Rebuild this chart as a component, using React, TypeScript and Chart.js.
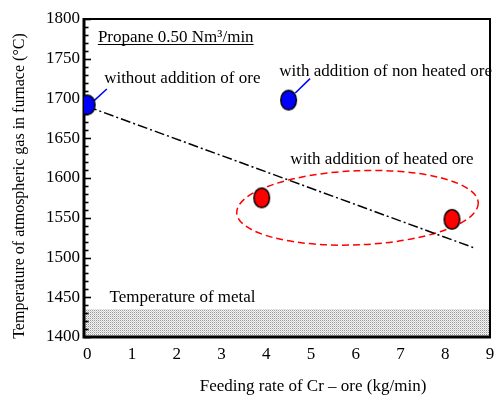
import { useEffect, useRef } from 'react';
import { Chart, registerables } from 'chart.js';

Chart.register(...registerables);

const FONT = '"Liberation Serif", "Times New Roman", serif';

// axes
const xRange = [-0.07, 9];
const yRange = [1400, 1800];
const xTicks = [0, 1, 2, 3, 4, 5, 6, 7, 8, 9];
const yTicks = [1400, 1450, 1500, 1550, 1600, 1650, 1700, 1750, 1800];
const yMinorStep = 10;

// data
const noOreX = [0];
const noOreY = [1692];
const nonHeatedX = [4.5];
const nonHeatedY = [1698];
const heatedX = [3.9, 8.15];
const heatedY = [1575, 1548];
const trendX = [0, 8.65];
const trendY = [1690, 1512];
const metalTempTop = 1435;

// leader lines from points to labels
const leaderNoOreX = [0.15, 0.44];
const leaderNoOreY = [1697, 1712];
const leaderNonHeatedX = [4.65, 4.98];
const leaderNonHeatedY = [1707, 1725];

// dashed ellipse around heated ore points (data units)
const ellipseCenter = [6.04, 1562.5];
const ellipseRadii = [2.7, 46.6];
const ellipseTiltDeg = -2.4;

// annotation labels (data coordinates of left/middle)
const labelTexts = [
  'Propane 0.50 Nm³/min',
  'without addition of ore',
  'with addition of non heated ore',
  'with addition of heated ore',
  'Temperature of metal',
];
const labelX = [0.24, 0.38, 4.29, 4.54, 0.5];
const labelY = [1777, 1725, 1734, 1623, 1450];
const labelUnderline = [true, false, false, false, false];

const xTitle = 'Feeding rate of Cr – ore (kg/min)';
const yTitle = 'Temperature of atmospheric gas in furnace (°C)';

function zip(xs: number[], ys: number[]) {
  return xs.map((x, i) => ({ x, y: ys[i] }));
}

function makeDot(fill: string) {
  const c = document.createElement('canvas');
  c.width = 19;
  c.height = 23;
  const g = c.getContext('2d')!;
  g.beginPath();
  g.ellipse(9.5, 11.5, 7.8, 9.8, 0, 0, Math.PI * 2);
  g.fillStyle = fill;
  g.fill();
  g.lineWidth = 1.5;
  g.strokeStyle = '#000';
  g.stroke();
  return c;
}

function makePattern(ctx: CanvasRenderingContext2D) {
  const c = document.createElement('canvas');
  c.width = 2;
  c.height = 2;
  const g = c.getContext('2d')!;
  g.fillStyle = '#f2f2f2';
  g.fillRect(0, 0, 2, 2);
  g.fillStyle = '#9a9a9a';
  g.fillRect(0, 0, 1, 1);
  g.fillStyle = '#cfcfcf';
  g.fillRect(1, 1, 1, 1);
  return ctx.createPattern(c, 'repeat')!;
}

const decorPlugin = {
  id: 'decor',
  beforeDatasetsDraw(chart: any) {
    const { ctx, chartArea: a, scales } = chart;
    const xs = scales.x;
    const ys = scales.y;
    ctx.save();
    // metal temperature band
    const yTop = ys.getPixelForValue(metalTempTop);
    ctx.fillStyle = makePattern(ctx);
    ctx.fillRect(a.left, yTop, a.right - a.left, a.bottom - yTop);
    // frame
    ctx.strokeStyle = '#000';
    ctx.lineWidth = 2;
    ctx.beginPath();
    ctx.moveTo(a.left, a.top);
    ctx.lineTo(a.right, a.top);
    ctx.lineTo(a.right, a.bottom);
    ctx.stroke();
    ctx.lineWidth = 3;
    ctx.beginPath();
    ctx.moveTo(a.left, a.top - 1);
    ctx.lineTo(a.left, a.bottom);
    ctx.lineTo(a.right + 1, a.bottom);
    ctx.stroke();
    // inward y ticks
    ctx.lineWidth = 1.6;
    for (let v = yRange[0]; v <= yRange[1]; v += yMinorStep) {
      const py = Math.round(ys.getPixelForValue(v)) + 0.5;
      const len = v % 50 === 0 ? 7 : 4.5;
      ctx.beginPath();
      ctx.moveTo(a.left, py);
      ctx.lineTo(a.left + len, py);
      ctx.stroke();
    }
    // dashed ellipse
    const cx = xs.getPixelForValue(ellipseCenter[0]);
    const cy = ys.getPixelForValue(ellipseCenter[1]);
    const rx = Math.abs(xs.getPixelForValue(ellipseCenter[0] + ellipseRadii[0]) - cx);
    const ry = Math.abs(ys.getPixelForValue(ellipseCenter[1] + ellipseRadii[1]) - cy);
    ctx.strokeStyle = '#ff0000';
    ctx.lineWidth = 1.5;
    ctx.setLineDash([7, 4]);
    ctx.beginPath();
    ctx.ellipse(cx, cy, rx, ry, (ellipseTiltDeg * Math.PI) / 180, 0, Math.PI * 2);
    ctx.stroke();
    ctx.restore();
  },
  afterDatasetsDraw(chart: any) {
    const { ctx, scales } = chart;
    const xs = scales.x;
    const ys = scales.y;
    ctx.save();
    ctx.fillStyle = '#000';
    ctx.strokeStyle = '#000';
    ctx.font = `17px ${FONT}`;
    ctx.textAlign = 'left';
    ctx.textBaseline = 'middle';
    labelTexts.forEach((t, i) => {
      const px = xs.getPixelForValue(labelX[i]);
      const py = ys.getPixelForValue(labelY[i]);
      ctx.fillText(t, px, py);
      if (labelUnderline[i]) {
        const w = ctx.measureText(t).width;
        ctx.lineWidth = 1;
        ctx.beginPath();
        ctx.moveTo(px, Math.round(py) + 7.5);
        ctx.lineTo(px + w, Math.round(py) + 7.5);
        ctx.stroke();
      }
    });
    // axis titles
    ctx.textAlign = 'center';
    ctx.font = `17px ${FONT}`;
    ctx.fillText(xTitle, 313, 387);
    ctx.translate(20, 186);
    ctx.rotate(-Math.PI / 2);
    ctx.font = `16px ${FONT}`;
    ctx.fillText(yTitle, 0, 0);
    ctx.restore();
  },
};

export default function App() {
  const ref = useRef<HTMLCanvasElement>(null);
  useEffect(() => {
    if (!ref.current) return;
    const blueDot = makeDot('#0000ff');
    const redDot = makeDot('#ff0000');
    const chart = new Chart(ref.current, {
      type: 'scatter',
      data: {
        datasets: [
          { data: zip(noOreX, noOreY), pointStyle: blueDot as any, order: 0 },
          { data: zip(nonHeatedX, nonHeatedY), pointStyle: blueDot as any, order: 0 },
          { data: zip(heatedX, heatedY), pointStyle: redDot as any, order: 0 },
          {
            data: zip(trendX, trendY),
            showLine: true,
            borderColor: '#000',
            borderWidth: 1.5,
            borderDash: [10, 3, 2, 3],
            pointRadius: 0,
            order: 3,
          },
          {
            data: zip(leaderNoOreX, leaderNoOreY),
            showLine: true,
            borderColor: '#0000ff',
            borderWidth: 1.5,
            pointRadius: 0,
            order: 2,
          },
          {
            data: zip(leaderNonHeatedX, leaderNonHeatedY),
            showLine: true,
            borderColor: '#0000ff',
            borderWidth: 1.5,
            pointRadius: 0,
            order: 2,
          },
        ],
      },
      options: {
        animation: false,
        responsive: false,
        devicePixelRatio: 1,
        layout: { padding: { top: 19, right: 3, left: 0, bottom: 0 } },
        plugins: { legend: { display: false }, tooltip: { enabled: false } },
        scales: {
          x: {
            type: 'linear',
            min: xRange[0],
            max: xRange[1],
            afterBuildTicks: (s: any) => {
              s.ticks = xTicks.map((v) => ({ value: v }));
            },
            afterFit: (s: any) => {
              s.height = 60;
              s.paddingLeft = 0;
              s.paddingRight = 0;
            },
            grid: { display: false, drawTicks: false },
            border: { display: false },
            ticks: {
              color: '#000',
              font: { family: FONT, size: 17 },
              padding: 7,
              maxRotation: 0,
              autoSkip: false,
              callback: (v: any) => String(v),
            },
          },
          y: {
            type: 'linear',
            min: yRange[0],
            max: yRange[1],
            afterBuildTicks: (s: any) => {
              s.ticks = yTicks.map((v) => ({ value: v }));
            },
            afterFit: (s: any) => {
              s.width = 84;
              s.paddingTop = 0;
              s.paddingBottom = 0;
            },
            grid: { display: false, drawTicks: false },
            border: { display: false },
            ticks: {
              color: '#000',
              font: { family: FONT, size: 17 },
              padding: 4,
              autoSkip: false,
              callback: (v: any) => String(v),
            },
          },
        },
      },
      plugins: [decorPlugin],
    });
    return () => chart.destroy();
  }, []);
  return (
    <div style={{ position: 'absolute', left: 0, top: 0, width: 495, height: 397, background: '#fff' }}>
      <canvas ref={ref} width={495} height={397} style={{ display: 'block' }} />
    </div>
  );
}
